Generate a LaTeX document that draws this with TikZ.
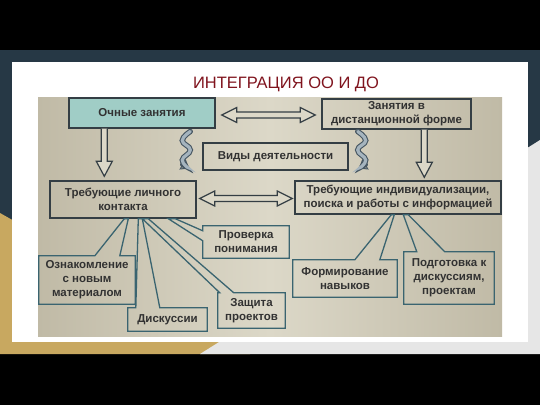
\documentclass[tikz,border=0pt]{standalone}
\usepackage{fontspec}
\setmainfont{Liberation Sans}
\usepackage{tikz}
\usetikzlibrary{calc,arrows.meta}

\definecolor{slate}{RGB}{38,56,69}
\definecolor{gold}{RGB}{200,168,96}
\definecolor{paleg}{RGB}{230,230,230}
\definecolor{photo}{RGB}{220,216,200}
\definecolor{photoedge}{RGB}{192,186,166}
\definecolor{boxline}{RGB}{52,62,68}
\definecolor{calline}{RGB}{58,100,112}
\definecolor{ochfill}{RGB}{160,205,198}
\definecolor{txt}{RGB}{50,50,50}
\definecolor{titlered}{RGB}{128,20,30}
\definecolor{ribbon}{RGB}{165,180,190}
\definecolor{ribbonline}{RGB}{70,86,98}

\tikzset{
  mainbox/.style={draw=boxline, line width=1.4pt, inner sep=0pt, align=center,
    text=txt, font=\bfseries\fontsize{11.5}{14}\selectfont},
  childbox/.style={inner sep=0pt, align=center, text=txt,
    font=\bfseries\fontsize{11.5}{14}\selectfont},
  callline/.style={draw=calline, line width=1.3pt},
  hollowarrow/.style={draw=boxline, line width=1.2pt, fill=photo, line join=miter},
}

% hollow double arrow between two tips (same height)
\newcommand{\dblarrow}[2]{%
  \draw[hollowarrow] let \p1=#1, \p2=#2 in
    (\x1,\y1) -- (\x1+15pt,\y1+7.5pt) -- (\x1+15pt,\y1+3pt) -- (\x2-15pt,\y1+3pt)
    -- (\x2-15pt,\y1+7.5pt) -- (\x2,\y1) -- (\x2-15pt,\y1-7.5pt) -- (\x2-15pt,\y1-3pt)
    -- (\x1+15pt,\y1-3pt) -- (\x1+15pt,\y1-7.5pt) -- cycle;}
% hollow arrow pointing down
\newcommand{\dnarrow}[2]{%
  \draw[hollowarrow] let \p1=#1, \p2=#2 in
    (\x1-3pt,\y1) -- (\x1-3pt,\y2+15pt) -- (\x1-8pt,\y2+15pt) -- (\x1,\y2)
    -- (\x1+8pt,\y2+15pt) -- (\x1+3pt,\y2+15pt) -- (\x1+3pt,\y1);}
% twisted ribbon arrow
\newcommand{\curly}{%
  \draw[ribbonline, line width=5.4pt, line cap=round,
    -{Triangle[length=8pt, width=12pt, line width=1pt, fill=ribbon, open]}]
    plot[smooth, tension=0.8] coordinates {(-12,-25) (-20,-16) (-12,-6.5) (-20,3.5) (-13,12)};
  \draw[ribbon, line width=3.2pt, line cap=round, shorten >=3pt]
    plot[smooth, tension=0.8] coordinates {(-12,-25) (-20,-16) (-12,-6.5) (-20,3.5) (-13,12)};}

\begin{document}
\begin{tikzpicture}[x=1pt,y=-1pt]
  \useasboundingbox (0,0) rectangle (540,405);
  % slide background
  \fill[black] (0,0) rectangle (540,405);
  \fill[slate] (0,50) rectangle (540,354);
  \fill[gold] (0,213) -- (250,354) -- (0,354) -- cycle;
  \fill[paleg] (540,140) -- (540,354) -- (200,354) -- cycle;
  \fill[white] (12,62) rectangle (528,342);
  \shade[left color=photoedge, right color=photoedge, middle color=photo]
    (38,97) rectangle (502,336);

  \node[text=titlered, font=\fontsize{16.5}{18}\selectfont] (ttl) at (286,84) {ИНТЕГРАЦИЯ ОО И ДО};

  \node[mainbox, fill=ochfill, minimum width=146pt, minimum height=30pt] (och) at (142,113) {Очные занятия};
  \node[mainbox, minimum width=149pt, minimum height=30pt] (dist) at (396.5,114) {Занятия в\\дистанционной форме};
  \node[mainbox, minimum width=145pt, minimum height=27pt] (vid) at (275.5,156.5) {Виды деятельности};
  \node[mainbox, minimum width=146pt, minimum height=37pt] (lich) at (123,199.5) {Требующие личного\\контакта};
  \node[mainbox, minimum width=206pt, minimum height=33pt] (indiv) at (398,197.5) {Требующие индивидуализации,\\поиска и работы с информацией};

  \node[childbox, minimum width=86pt, minimum height=32pt] (prov) at (246,242) {Проверка\\понимания};
  \node[childbox, minimum width=96pt, minimum height=48pt] (ozn) at (87,280) {Ознакомление\\с новым\\материалом};
  \node[childbox, minimum width=79pt, minimum height=23pt] (disk) at (167.5,319.5) {Дискуссии};
  \node[childbox, minimum width=67pt, minimum height=35pt] (zash) at (251.5,310.5) {Защита\\проектов};
  \node[childbox, minimum width=104pt, minimum height=37pt] (form) at (345,278.5) {Формирование\\навыков};
  \node[childbox, minimum width=90pt, minimum height=52pt] (podg) at (449,278) {Подготовка к\\дискуссиям,\\проектам};

  \dblarrow{($(och.east)+(6,2)$)}{($(dist.west)+(-6,1)$)}
  \dblarrow{($(lich.east)+(3,-1)$)}{($(indiv.west)+(-2,1)$)}
  \dnarrow{($(och.south west)+(36,0)$)}{($(lich.north west)+(55,-4)$)}
  \dnarrow{($(dist.south west)+(103,0)$)}{($(indiv.north west)+(130,-3)$)}

  \begin{scope}[shift={(vid.west)}]
    \curly
  \end{scope}
  \begin{scope}[shift={($(vid.east)+(-3,0)$)}, xscale=-1]
    \curly
  \end{scope}

  % callouts of the left group
  \draw[callline] (ozn.north west) -- ($(ozn.north west)+(56,0)$) -- ($(lich.south west)+(75,0)$)
    -- ($(lich.south west)+(79,0)$) -- ($(ozn.north west)+(81,0)$) -- (ozn.north east)
    -- (ozn.south east) -- (ozn.south west) -- cycle;
  \draw[callline] (disk.north west) -- ($(disk.north west)+(8,0)$) -- ($(lich.south west)+(89,0)$)
    -- ($(lich.south west)+(93,0)$) -- ($(disk.north west)+(32,0)$) -- (disk.north east)
    -- (disk.south east) -- (disk.south west) -- cycle;
  \draw[callline] (zash.north west) -- ($(zash.north west)+(2,0)$) -- ($(lich.south west)+(93,0)$)
    -- ($(lich.south west)+(99,0)$) -- ($(zash.north west)+(16,0)$) -- (zash.north east)
    -- (zash.south east) -- (zash.south west) -- cycle;
  \draw[callline] (prov.north west) -- (prov.north east) -- (prov.south east) -- (prov.south west)
    -- ($(prov.north west)+(0,15)$) -- ($(lich.south west)+(119,0)$)
    -- ($(lich.south west)+(126,0)$) -- ($(prov.north west)+(0,5)$) -- cycle;
  % callouts of the right group
  \draw[callline] (form.north west) -- ($(form.north west)+(62,0)$) -- ($(indiv.south west)+(97,0)$)
    -- ($(indiv.south west)+(100,0)$) -- ($(form.north west)+(87,0)$) -- (form.north east)
    -- (form.south east) -- (form.south west) -- cycle;
  \draw[callline] (podg.north west) -- ($(podg.north west)+(13,0)$) -- ($(indiv.south west)+(109,0)$)
    -- ($(indiv.south west)+(114,0)$) -- ($(podg.north west)+(41,0)$) -- (podg.north east)
    -- (podg.south east) -- (podg.south west) -- cycle;
\end{tikzpicture}
\end{document}
